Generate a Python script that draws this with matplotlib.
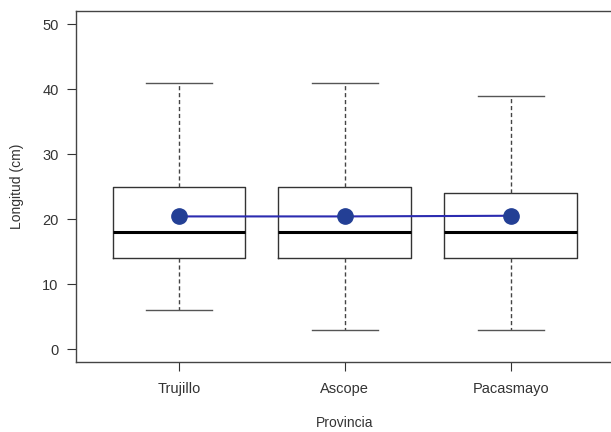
import matplotlib.pyplot as plt

plt.rcParams['font.family'] = ['Liberation Sans', 'DejaVu Sans']

provincias = ['Trujillo', 'Ascope', 'Pacasmayo']
whisker_lo = [6, 3, 3]
q1 = [14, 14, 14]
mediana = [18, 18, 18]
q3 = [25, 25, 24]
whisker_hi = [41, 41, 39]
media = [20.4, 20.4, 20.5]

# box stats in the format bxp expects
stats = []
for i, name in enumerate(provincias):
    stats.append({'label': name, 'whislo': whisker_lo[i], 'q1': q1[i],
                  'med': mediana[i], 'q3': q3[i], 'whishi': whisker_hi[i]})

fig = plt.figure(figsize=(6.11, 4.32), dpi=100)
ax = fig.add_axes([0.1244, 0.162, 0.88, 0.8125])

pos = [1, 2, 3]
ax.bxp(stats, positions=pos, widths=0.8, showfliers=False, patch_artist=False,
       boxprops=dict(color='#333333', linewidth=1.0),
       medianprops=dict(color='black', linewidth=2.2),
       whiskerprops=dict(color='#444444', linewidth=1.0, linestyle=(0, (3, 2))),
       capprops=dict(color='#555555', linewidth=1.0),
       capwidths=0.4)

# means joined by a line
ax.plot(pos, media, color='#2b2bb0', linewidth=1.5, marker='o',
        markersize=11, markerfacecolor='#233f95', markeredgecolor='#233f95', zorder=5)

ax.set_xlim(0.38, 3.62)
ax.set_ylim(-2, 52)
ax.set_yticks([0, 10, 20, 30, 40, 50])
ax.set_xticks(pos)
ax.set_xticklabels(provincias)

ax.spines['right'].set_visible(False)
for s in ['left', 'top', 'bottom']:
    ax.spines[s].set_color('#444444')
    ax.spines[s].set_linewidth(1.0)

ax.tick_params(axis='both', labelsize=10.5, colors='#333333', length=6.5)
ax.tick_params(axis='x', pad=8)
ax.tick_params(axis='y', pad=6)
ax.set_ylabel('Longitud (cm)', fontsize=10, color='#333333', labelpad=13)
ax.set_xlabel('Provincia', fontsize=10, color='#333333', labelpad=14)

fig.savefig('out.png', dpi=100)
